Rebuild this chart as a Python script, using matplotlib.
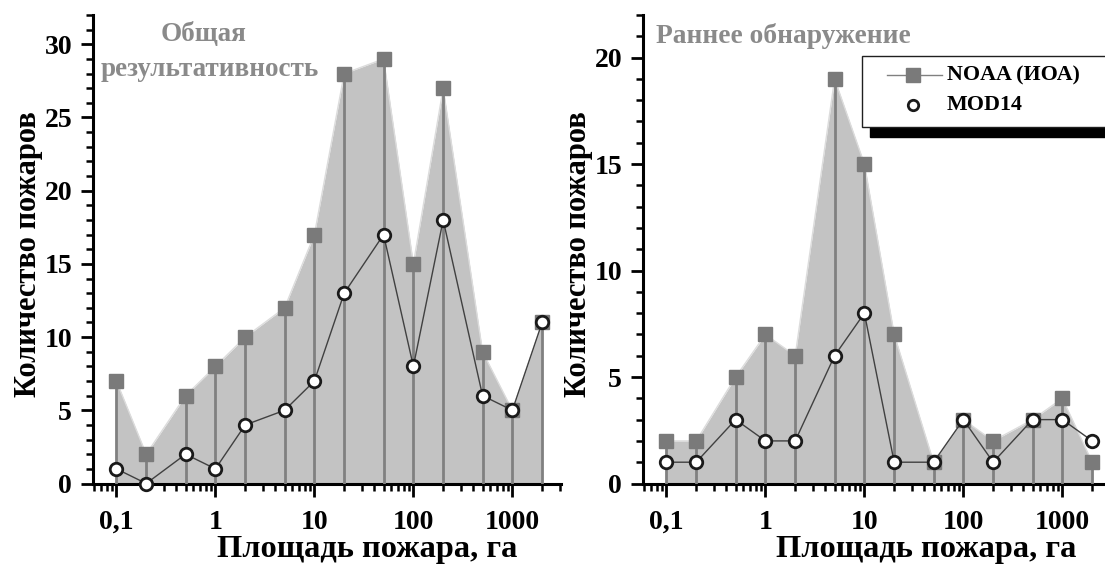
import matplotlib
matplotlib.use('Agg')
import matplotlib.pyplot as plt
from matplotlib.ticker import FixedLocator, FixedFormatter, LogLocator, NullFormatter, MultipleLocator
from matplotlib.patches import Rectangle
from matplotlib.lines import Line2D

plt.rcParams['font.family'] = ['Liberation Serif', 'DejaVu Serif']
plt.rcParams['font.weight'] = 'bold'
plt.rcParams['axes.labelweight'] = 'bold'

area = [0.1, 0.2, 0.5, 1, 2, 5, 10, 20, 50, 100, 200, 500, 1000, 2000]
tick_vals = [0.1, 1, 10, 100, 1000]
tick_labels = ['0,1', '1', '10', '100', '1000']

# total efficiency
noaa_total = [7, 2, 6, 8, 10, 12, 17, 28, 29, 15, 27, 9, 5, 11]
mod_total = [1, 0, 2, 1, 4, 5, 7, 13, 17, 8, 18, 6, 5, 11]

# early detection
noaa_early = [2, 2, 5, 7, 6, 19, 15, 7, 1, 3, 2, 3, 4, 1]
mod_early = [1, 1, 3, 2, 2, 6, 8, 1, 1, 3, 1, 3, 3, 2]

fill_col = '#c3c3c3'
drop_col = '#808080'
sq_col = '#7a7a7a'
txt_gray = '#8a8a8a'

W, H = 1105, 565


def fx(px):
    return px / W


def fy(py):
    return 1 - py / H


def draw_panel(ax, noaa, mod, ymax, xlab_x):
    ax.fill_between(area, 0, noaa, color=fill_col, lw=0, zorder=1)
    ax.plot(area, noaa, color='#dcdcdc', lw=1, zorder=2)
    ax.vlines(area, 0, noaa, color=drop_col, lw=2, zorder=3)
    ax.plot(area, noaa, ls='none', marker='s', ms=10.3, mfc=sq_col, mec=sq_col, zorder=4)
    ax.plot(area, mod, color='#404040', lw=1, marker='o', ms=9, mfc='white',
            mec='#1a1a1a', mew=2, zorder=5, clip_on=False)
    ax.set_xscale('log')
    ax.set_xlim(0.058, 3100)
    ax.set_ylim(0, ymax)
    ax.xaxis.set_major_locator(FixedLocator(tick_vals))
    ax.xaxis.set_major_formatter(FixedFormatter(tick_labels))
    ax.xaxis.set_minor_locator(LogLocator(base=10, subs=[2, 3, 4, 5, 6, 7, 8, 9], numticks=20))
    ax.xaxis.set_minor_formatter(NullFormatter())
    ax.yaxis.set_major_locator(MultipleLocator(5))
    ax.yaxis.set_minor_locator(MultipleLocator(1))
    for s in ['top', 'right']:
        ax.spines[s].set_visible(False)
    for s in ['left', 'bottom']:
        ax.spines[s].set_linewidth(2.2)
    ax.tick_params(which='major', direction='out', length=9, width=2, labelsize=20, pad=6)
    ax.tick_params(which='minor', direction='out', length=5, width=1.8)
    ax.tick_params(axis='x', which='major', pad=10)
    ax.set_xlabel('Площадь пожара, га', fontsize=23.3)
    ax.set_ylabel('Количество пожаров', fontsize=22)
    ax.xaxis.set_label_coords(xlab_x, -0.11)
    ax.yaxis.set_label_coords(-0.107, 0.49)


fig = plt.figure(figsize=(11.05, 5.65), dpi=100)
ax1 = fig.add_axes([fx(93), fy(483.5), 468 / W, 468.5 / H])
ax2 = fig.add_axes([fx(643), fy(483.5), 468 / W, 468.5 / H])

draw_panel(ax1, noaa_total, mod_total, 32, 0.585)
draw_panel(ax2, noaa_early, mod_early, 22, 0.605)

fig.text(fx(204), fy(34), 'Общая', color=txt_gray, fontsize=19.5, ha='center', va='center')
fig.text(fx(210), fy(70), 'результативность', color=txt_gray, fontsize=19.5,
         ha='center', va='center')
fig.text(fx(656), fy(36), 'Раннее обнаружение', color=txt_gray, fontsize=19.8,
         ha='left', va='center')

# legend: white box, thin border, thick black bottom shadow
fig.patches.append(Rectangle((fx(870), fy(137)), 0.3, 10 / H,
                             transform=fig.transFigure, color='black', zorder=6))
fig.patches.append(Rectangle((fx(862), fy(127)), 0.3, 71 / H,
                             transform=fig.transFigure, facecolor='white',
                             edgecolor='#202020', lw=1, zorder=7))
fig.lines.append(Line2D([fx(887), fx(942)], [fy(75), fy(75)], transform=fig.transFigure,
                        color=drop_col, lw=1, zorder=8))
fig.lines.append(Line2D([fx(913)], [fy(75)], transform=fig.transFigure, ls='none',
                        marker='s', ms=10.3, mfc=sq_col, mec=sq_col, zorder=9))
fig.lines.append(Line2D([fx(913)], [fy(105)], transform=fig.transFigure, ls='none',
                        marker='o', ms=7.5, mfc='white', mec='#1a1a1a', mew=2, zorder=9))
fig.text(fx(947), fy(75), 'NOAA (ИОА)', fontsize=15.8, ha='left', va='center', zorder=9)
fig.text(fx(947), fy(105), 'MOD14', fontsize=15.8, ha='left', va='center', zorder=9)

fig.savefig('out.png', dpi=100)
